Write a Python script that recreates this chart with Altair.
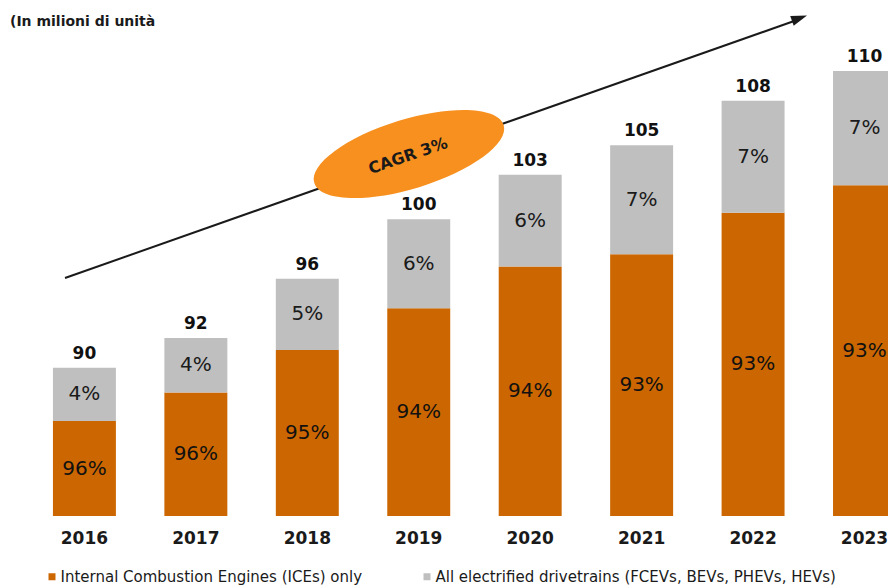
import altair as alt
import pandas as pd

years = ["2016", "2017", "2018", "2019", "2020", "2021", "2022", "2023"]
totals = [90, 92, 96, 100, 103, 105, 108, 110]
ice_share = [96, 96, 95, 94, 94, 93, 93, 93]
elec_share = [4, 4, 5, 6, 6, 7, 7, 7]
series = ["Internal Combustion Engines (ICEs) only",
          "All electrified drivetrains (FCEVs, BEVs, PHEVs, HEVs)"]
colors = ["#CC6600", "#BFBFBF"]
subtitle = "(In milioni di unità"
cagr_text = "CAGR 3%"
y_min, y_max = 80, 114.25

FONT = "DejaVu Sans"
TXT = "#1a1a1a"

ice_vals = [t * s / 100 for t, s in zip(totals, ice_share)]
elec_vals = [t - i for t, i in zip(totals, ice_vals)]

bars_df = pd.DataFrame({
    "year": years * 2,
    "series": [series[0]] * len(years) + [series[1]] * len(years),
    "value": ice_vals + elec_vals,
    "order": [0] * len(years) + [1] * len(years),
})
lab_df = pd.DataFrame({
    "year": years,
    "total": totals,
    "ice_mid": [(y_min + i) / 2 for i in ice_vals],
    "elec_mid": [(i + t) / 2 for i, t in zip(ice_vals, totals)],
    "ice_txt": [f"{s}%" for s in ice_share],
    "elec_txt": [f"{s}%" for s in elec_share],
})

xscale = alt.Scale(range=[0, 888], paddingInner=0.435, paddingOuter=0.2016, align=1)
xaxis = alt.Axis(title=None, labelAngle=0, domain=False, ticks=False, tickSize=0,
                 labelPadding=22, labelBaseline="middle", labelFontSize=17,
                 labelFontWeight="bold", labelFont=FONT, labelColor=TXT)
X = alt.X("year:N", sort=years, scale=xscale, axis=xaxis)
yscale = alt.Scale(domain=[y_min, y_max], zero=False, nice=False, clamp=True)

bars = alt.Chart(bars_df).mark_bar(clip=True).encode(
    x=X,
    y=alt.Y("value:Q", stack="zero", scale=yscale, axis=None),
    color=alt.Color("series:N", scale=alt.Scale(domain=series, range=colors),
                    legend=alt.Legend(orient="none", legendX=36.5, legendY=561,
                                      direction="horizontal", title=None,
                                      symbolType="square", symbolSize=49,
                                      symbolStrokeWidth=0, labelFontSize=15,
                                      labelFont=FONT, labelColor=TXT,
                                      columnPadding=57, labelOffset=1,
                                      labelLimit=0)),
    order=alt.Order("order:Q"),
)

ice_lab = alt.Chart(lab_df).mark_text(fontSize=20, font=FONT, color="#111111",
                                      baseline="middle").encode(
    x=X, y=alt.Y("ice_mid:Q", scale=yscale, axis=None), text="ice_txt:N")
elec_lab = alt.Chart(lab_df).mark_text(fontSize=20, font=FONT, color=TXT,
                                       baseline="middle").encode(
    x=X, y=alt.Y("elec_mid:Q", scale=yscale, axis=None), text="elec_txt:N")
tot_lab = alt.Chart(lab_df).mark_text(fontSize=17, font=FONT, fontWeight="bold",
                                      color="#111111", baseline="alphabetic",
                                      dy=-9).encode(
    x=X, y=alt.Y("total:Q", scale=yscale, axis=None), text="total:Q")

one = pd.DataFrame({"t": [subtitle]})
title = alt.Chart(one).mark_text(align="left", baseline="middle", fontSize=14,
                                 fontWeight="bold", font=FONT, color=TXT).encode(
    x=alt.value(2), y=alt.value(14), text="t:N")

arrow = alt.Chart(one).mark_rule(strokeWidth=2, color="#1a1a1a").encode(
    x=alt.value(57), y=alt.value(270), x2=alt.value(789), y2=alt.value(12))
head = alt.Chart(one).mark_point(shape="M0,-1 L0.65,1 L-0.65,1 Z", size=256,
                                 angle=70.5, filled=True, opacity=1,
                                 color="#1a1a1a").encode(
    x=alt.value(791.5), y=alt.value(10.2))

ellipse = alt.Chart(one).mark_point(
    shape="M-1,0 A1,0.35 0 1,1 1,0 A1,0.35 0 1,1 -1,0 Z",
    size=198 * 198, angle=343, filled=True, opacity=1, color="#F7901E",
    strokeWidth=0).encode(x=alt.value(401), y=alt.value(146))
cagr = alt.Chart(pd.DataFrame({"t": [cagr_text]})).mark_text(
    fontSize=16, fontWeight="bold", font=FONT, color=TXT, angle=341,
    align="center", baseline="middle").encode(
    x=alt.value(400), y=alt.value(148), text="t:N")

chart = alt.layer(bars, ice_lab, elec_lab, tot_lab, arrow, head, ellipse, cagr, title).properties(
    width=880, height=508,
    autosize=alt.AutoSizeParams(type="none"),
    padding={"left": 0, "top": 0, "right": 0, "bottom": 70},
    background="white",
).configure_view(stroke=None)

chart.save("out.html", embed_options={"renderer": "svg", "actions": False})
